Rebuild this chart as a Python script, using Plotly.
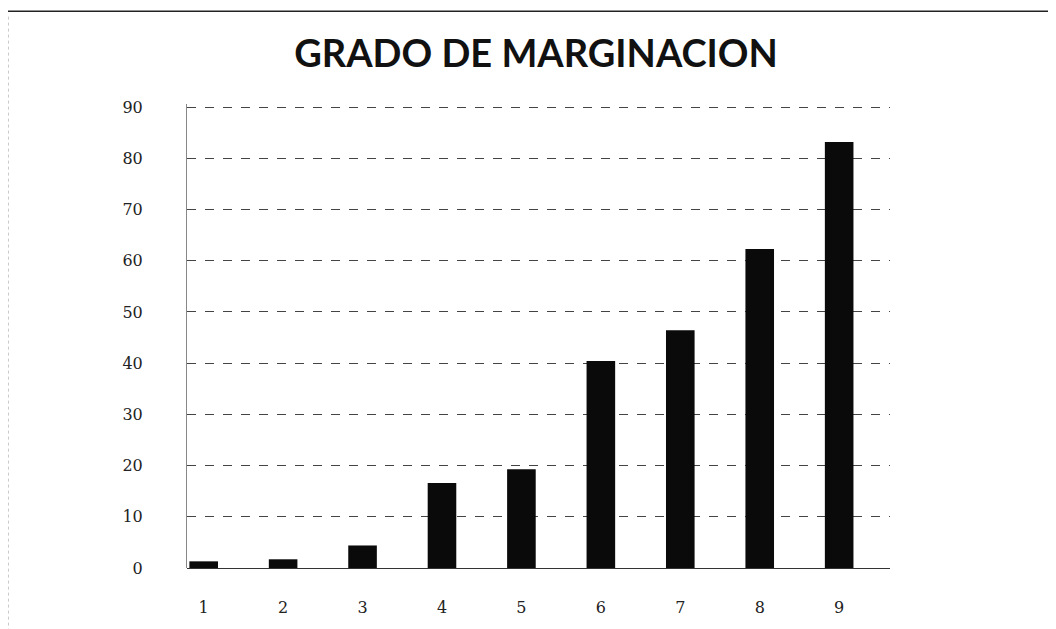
import plotly.graph_objects as go

categories = [1, 2, 3, 4, 5, 6, 7, 8, 9]
tick_labels = ["1", "2", "3", "4", "5", "6", "7", "8", "9"]
values = [1.3, 1.7, 4.4, 16.6, 19.3, 40.4, 46.4, 62.3, 83.2]
y_ticks = [0, 10, 20, 30, 40, 50, 60, 70, 80, 90]

fig = go.Figure(go.Bar(
    x=categories, y=values, width=0.36,
    marker=dict(color="#0a0a0a", line=dict(width=0)),
))

fig.update_layout(
    width=1056, height=629,
    paper_bgcolor="white", plot_bgcolor="white",
    margin=dict(l=179, r=174, t=96, b=69),
    title=dict(text="<b>GRADO DE MARGINACION</b>", x=0.5, xanchor="center",
               y=0.928, yanchor="middle",
               font=dict(family="Lato", size=38, color="#111")),
    showlegend=False,
    xaxis=dict(range=[0.79, 9.64], tickvals=categories, ticktext=tick_labels,
               showgrid=False, zeroline=False, showline=False, ticks="",
               tickfont=dict(family="DejaVu Serif", size=16, color="#222"),
               ),
    yaxis=dict(range=[0, 90.6], tickvals=y_ticks, showgrid=True,
               gridcolor="#444", griddash="dash", gridwidth=1,
               zeroline=True, zerolinecolor="#333", zerolinewidth=1,
               showline=True, linecolor="#888", linewidth=1,
               ticks="", tickfont=dict(family="DejaVu Serif", size=16, color="#222"),
               ),
    shapes=[
        dict(type="line", xref="paper", yref="paper", x0=-0.3, x1=1.3, y0=1.2, y1=1.2,
             line=dict(color="#222", width=1.5)),
        dict(type="line", xref="paper", yref="paper", x0=-0.2546, x1=-0.2546, y0=-0.15, y1=1.19,
             line=dict(color="#999", width=1, dash="dot")),
    ],
)
fig.update_xaxes(ticklabelstandoff=28)
fig.update_yaxes(ticklabelstandoff=40)

fig.write_html("out.html")
